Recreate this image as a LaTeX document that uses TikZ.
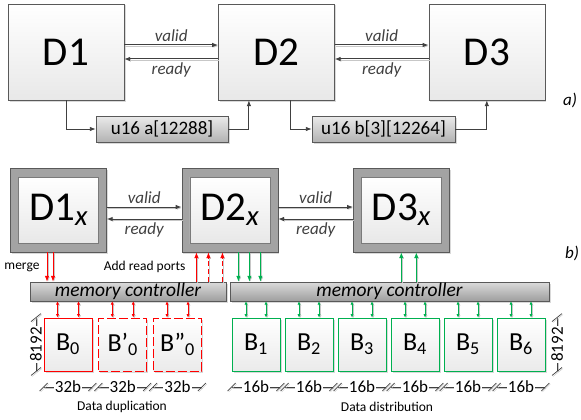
\documentclass[tikz,border=0pt]{standalone}
\usepackage{fontspec}
\setmainfont{Carlito}
\usetikzlibrary{arrows.meta,positioning,calc,shadows}
\definecolor{frgray}{HTML}{595959}
\definecolor{wiregray}{HTML}{404040}
\definecolor{dupred}{HTML}{FF0000}
\definecolor{disgreen}{HTML}{00B050}

\begin{document}
\begin{tikzpicture}[x=1pt,y=-1pt,
 >={Latex[length=6pt,width=4.5pt]},font=\fontsize{12}{14}\selectfont,
 shd/.style={drop shadow={shadow xshift=1.5pt,shadow yshift=-1.5pt,opacity=.3}},
 lineshd/.style={preaction={draw=black!22,transform canvas={shift={(1pt,-1pt)}}}},
 dev/.style={draw=frgray,shd,top color=white,bottom color=black!9,minimum width=116pt,minimum height=96pt,inner sep=0pt,font=\fontsize{41}{43}\selectfont},
 devo/.style={draw=frgray,fill=black!36,shd,minimum width=96pt,minimum height=84pt,inner sep=0pt},
 devi/.style={draw=frgray!80,top color=white,bottom color=black!9,minimum width=80pt,minimum height=66pt,inner sep=0pt,font=\fontsize{41}{43}\selectfont},
 buf/.style={draw=frgray,shd,top color=black!8,bottom color=black!30,minimum width=132pt,minimum height=26pt,inner sep=0pt,font=\fontsize{19}{21}\selectfont},
 memctl/.style={draw=frgray,shd,top color=black!14,bottom color=black!38,minimum height=19pt,inner sep=0pt,font=\fontsize{19.5}{20}\selectfont\itshape},
 bank/.style={shd,top color=white,bottom color=black!8,minimum width=48pt,minimum height=53pt,inner sep=0pt,line width=0.9pt,font=\fontsize{26}{28}\selectfont},
 hs/.style={->,wiregray,line width=1pt,lineshd},
 wire/.style={wiregray,line width=0.9pt},
 bus/.style={->,line width=1pt,lineshd},
 port/.style={{Latex[length=3.5pt,width=3.2pt]}-{Latex[length=3.5pt,width=3.2pt]},line width=0.8pt,lineshd},
 lbl/.style={font=\fontsize{17}{18}\selectfont\itshape},
 note/.style={font=\fontsize{13.5}{15}\selectfont},
 dim/.style={draw=wiregray,line width=0.7pt,lineshd},
 dimtxt/.style={fill=white,inner sep=1pt,font=\fontsize{17}{18}\selectfont}
]
\useasboundingbox (0,0) rectangle (581,420);

% a) plain devices with handshake and buffers
\node[dev] (D1) at (66,52) {D1};
\node[dev,right=94pt of D1] (D2) {D2};
\node[dev,right=94pt of D2] (D3) {D3};
\foreach \a/\b in {D1/D2,D2/D3}{
 \draw[hs] ([yshift=7pt]\a.east) -- node[lbl,above,inner sep=3pt]{valid} ([yshift=7pt]\b.west);
 \draw[hs] ([yshift=-7pt]\b.west) -- node[lbl,below,inner sep=3pt]{ready} ([yshift=-7pt]\a.east);
}
\node[buf] (bufA) at (162,129) {u16 a[12288]};
\node[buf,minimum width=143pt] (bufB) at (383.5,129) {u16 b[3][12264]};
\draw[wire,->] (D1.south) |- (bufA.west);
\draw[wire,->] (bufA.east) -| ([xshift=-27.5pt]D2.south);
\draw[wire,->] ([xshift=14.5pt]D2.south) |- (bufB.west);
\draw[wire,->] (bufB.east) -| (D3.south);
\node[lbl] (tagA) at (570,100) {a)};

% b) devices with memory controllers and banks
\node[devo] (Do1) at (58.5,210) {};
\node[devo,right=75pt of Do1] (Do2) {};
\node[devo,right=75pt of Do2] (Do3) {};
\foreach \n in {1,2,3}
 \node[devi] (Dx\n) at (Do\n) {D\n\textsubscript{\itshape x}};
\foreach \a/\b in {1/2,2/3}{
 \draw[hs] ([yshift=3pt]Do\a.east) -- node[lbl,above,inner sep=3pt]{valid} ([yshift=3pt]Do\b.west);
 \draw[hs] ([yshift=-9pt]Do\b.west) -- node[lbl,below,inner sep=3pt]{ready} ([yshift=-9pt]Do\a.east);
}
\node[lbl] (tagB) at (572,253) {b)};

\node[memctl,minimum width=196pt] (mcL) at (128,291.5) {memory controller};
\node[memctl,minimum width=319pt] (mcR) at (389.5,291.5) {memory controller};

\node[bank,draw=dupred] (r0) at (68,344.5) {B\textsubscript{0}};
\node[bank,draw=dupred,dash pattern=on 9pt off 3pt] (r1) at (122.75,344.5) {B’\textsubscript{0}};
\node[bank,draw=dupred,dash pattern=on 9pt off 3pt] (r2) at (177.5,344.5) {B”\textsubscript{0}};
\foreach \i in {1,...,6}
 \node[bank,draw=disgreen] (g\i) at ({256+53*(\i-1)},344.5) {B\textsubscript{\i}};

% ports between controllers and banks
\foreach \b in {r0,r1,r2}
 \foreach \s in {-10.5,10.5}
  \draw[port,dupred] ($(\b.north)+(\s,0)$) -- ($(\b.north|-mcL.south)+(\s,0)$);
\foreach \i in {1,...,6}
 \foreach \s in {-10,10}
  \draw[port,disgreen] ($(g\i.north)+(\s,0)$) -- ($(g\i.north|-mcR.south)+(\s,0)$);

% merge and read ports
\foreach \s in {-11.5,-5.5}
 \draw[bus,dupred] ($(Do1.south)+(\s,0)$) -- ($(Do1.south|-mcL.north)+(\s,0)$);
\draw[bus,dupred] ($(Do2.south|-mcL.north)+(-33.5,0)$) -- ($(Do2.south)+(-33.5,0)$);
\foreach \s in {-21.5,-7.5}
 \draw[bus,dupred,dash pattern=on 5pt off 3pt] ($(Do2.south|-mcL.north)+(\s,0)$) -- ($(Do2.south)+(\s,0)$);
\foreach \s in {8.5,19.5,30.5}
 \draw[bus,disgreen] ($(Do2.south)+(\s,0)$) -- ($(Do2.south|-mcR.north)+(\s,0)$);
\foreach \s in {0,15}
 \draw[bus,disgreen] ($(Do3.south|-mcR.north)+(\s,0)$) -- ($(Do3.south)+(\s,0)$);
\node[note,anchor=east] (mergeTxt) at (43,267) {merge};
\node[note,anchor=east] (readTxt) at (189,267) {Add read ports};

% widths and depth of the banks
\coordinate (dimy) at (0,387);
\foreach \b/\w in {r0/32b,r1/32b,r2/32b,g1/16b,g2/16b,g3/16b,g4/16b,g5/16b,g6/16b}{
 \draw[dim] (\b.west|-dimy) -- node[dimtxt]{\w} (\b.east|-dimy);
 \draw[dim] (\b.west|-dimy) ++(-4,4) -- ++(8,-8);
 \draw[dim] (\b.east|-dimy) ++(-4,4) -- ++(8,-8);
}
\coordinate (dimxl) at (36,0);
\coordinate (dimxr) at (557,0);
\draw[dim] (r0.north-|dimxl) -- node[dimtxt,rotate=90]{8192} (r0.south-|dimxl);
\draw[dim] (g6.north-|dimxr) -- node[dimtxt,rotate=90]{8192} (g6.south-|dimxr);
\foreach \p in {r0.north-|dimxl,r0.south-|dimxl,g6.north-|dimxr,g6.south-|dimxr}
 \draw[dim] (\p) ++(-5,4) -- ++(10,-8);
\node[note] (dupTxt) at (122,407) {Data duplication};
\node[note] (disTxt) at (387,407) {Data distribution};
\end{tikzpicture}
\end{document}
